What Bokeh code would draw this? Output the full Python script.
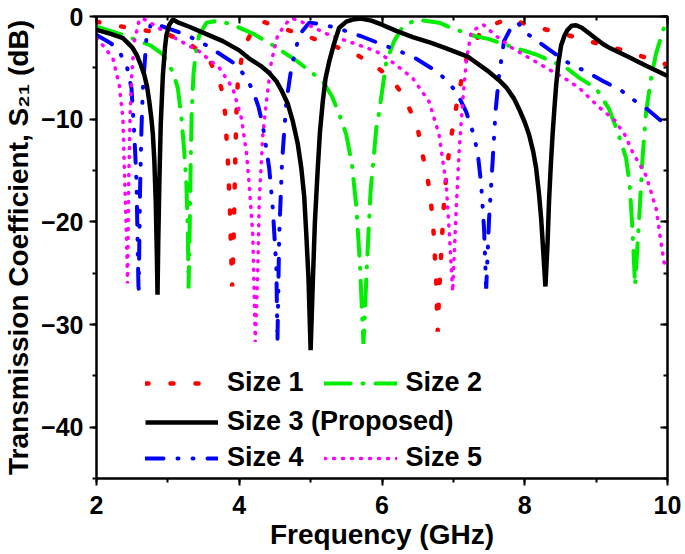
from bokeh.plotting import figure
from bokeh.models import Legend, LegendItem, LinearAxis, SingleIntervalTicker, Range1d
from bokeh.embed import file_html
from bokeh.resources import INLINE

# ---------------- data ----------------
size1_f = [2.0, 2.37, 2.72, 3.02, 3.33, 3.5, 3.6, 3.7, 3.75, 3.8, 3.84, 3.87, 3.9, 3.92, 3.94,
           3.96, 3.98, 4.03, 4.1, 4.2, 4.33, 4.5, 4.98, 5.3, 5.64, 5.92, 6.05, 6.15, 6.26, 6.36,
           6.43, 6.5, 6.57, 6.64, 6.69, 6.72, 6.76, 6.78, 6.8, 6.83, 6.86, 6.9, 6.95, 7.0, 7.05,
           7.1, 7.13, 7.2, 7.36, 7.55, 7.74, 7.8, 7.95, 8.1, 8.42, 8.76, 9.0, 9.33, 9.65, 10.0]
size1_db = [-0.5, -1.0, -1.4, -1.8, -2.8, -3.7, -4.5, -6.0, -7.0, -9.3, -14.0, -19.0, -26.3, -22.0, -15.0,
            -9.5, -6.3, -4.2, -2.5, -1.2, -0.5, -0.9, -2.0, -2.8, -3.7, -4.9, -5.6, -6.3, -7.3, -8.6,
            -9.7, -10.9, -13.5, -15.8, -18.4, -20.7, -25.9, -30.7, -27.0, -23.0, -19.0, -15.5, -12.5, -10.5, -8.4,
            -6.7, -5.4, -3.8, -1.8, -0.8, -0.3, -0.2, -0.6, -0.9, -1.5, -2.1, -2.6, -3.2, -3.9, -4.7]

size2_f = [2.0, 2.37, 2.6, 2.75, 2.93, 3.07, 3.14, 3.19, 3.23, 3.26, 3.28, 3.29, 3.305, 3.32, 3.335,
           3.36, 3.4, 3.44, 3.54, 3.7, 3.9, 4.2, 4.47, 4.8, 5.17, 5.3, 5.4, 5.5, 5.58, 5.64,
           5.69, 5.74, 5.79, 5.84, 5.92, 5.96, 6.06, 6.17, 6.29, 6.48, 6.8, 7.0, 7.3, 7.5, 7.88,
           8.16, 8.58, 8.77, 9.0, 9.18, 9.3, 9.42, 9.47, 9.5, 9.52, 9.545, 9.6, 9.65, 9.7, 9.77,
           9.84, 9.95, 10.0]
size2_db = [-1.0, -1.8, -2.4, -2.8, -3.7, -5.4, -7.0, -9.9, -13.2, -16.4, -21.3, -26.5, -21.0, -14.0, -9.0,
            -5.5, -3.1, -1.8, -0.6, -0.4, -0.8, -1.7, -2.8, -4.3, -6.3, -7.8, -9.5, -11.5, -14.5, -18.5,
            -24.0, -31.9, -24.0, -17.0, -10.9, -9.3, -4.4, -2.4, -1.0, -0.3, -0.6, -1.2, -1.9, -2.2, -3.1,
            -3.7, -5.0, -6.0, -7.0, -9.0, -11.2, -13.8, -16.4, -19.7, -22.3, -26.2, -20.0, -13.8, -9.3, -6.0,
            -3.6, -1.1, -0.9]

size3_f = [2.0, 2.2, 2.37, 2.5, 2.56, 2.62, 2.67, 2.71, 2.74, 2.77, 2.79, 2.81, 2.83, 2.845, 2.855,
           2.865, 2.88, 2.9, 2.93, 2.96, 2.98, 3.02, 3.07, 3.15, 3.3, 3.5, 3.77, 4.0, 4.14, 4.3,
           4.42, 4.52, 4.6, 4.68, 4.75, 4.82, 4.87, 4.91, 4.94, 4.97, 5.0, 5.03, 5.06, 5.1, 5.13,
           5.17, 5.21, 5.26, 5.33, 5.4, 5.5, 5.59, 5.7, 5.85, 6.0, 6.2, 6.43, 6.7, 6.9, 7.2,
           7.5, 7.64, 7.74, 7.85, 7.92, 8.0, 8.06, 8.12, 8.16, 8.2, 8.23, 8.26, 8.29, 8.32, 8.34,
           8.365, 8.39, 8.415, 8.44, 8.47, 8.51, 8.56, 8.6, 8.66, 8.72, 8.8, 8.95, 9.1, 9.2, 9.47,
           9.7, 10.0]
size3_db = [-1.3, -1.7, -2.1, -3.0, -3.7, -4.7, -5.7, -6.9, -8.3, -10.0, -11.5, -14.0, -18.0, -23.0, -27.1,
            -22.0, -16.4, -10.5, -5.7, -3.0, -1.8, -0.8, -0.3, -0.6, -1.0, -1.6, -2.4, -3.3, -4.1, -4.8,
            -5.5, -6.3, -7.3, -8.5, -10.2, -12.4, -14.8, -17.5, -21.3, -25.5, -32.5, -26.0, -20.0, -14.8, -11.3,
            -8.3, -6.0, -4.4, -2.6, -1.1, -0.5, -0.3, -0.2, -0.4, -0.8, -1.4, -2.0, -2.6, -3.1, -3.9,
            -5.4, -6.2, -6.9, -8.0, -9.0, -10.3, -11.5, -13.2, -14.8, -17.3, -19.7, -23.0, -26.3, -22.0, -18.0,
            -14.5, -11.5, -9.0, -6.7, -4.6, -2.8, -1.8, -1.3, -0.9, -0.85, -1.1, -1.9, -2.7, -3.1, -4.0,
            -4.8, -5.8]

size4_f = [2.0, 2.2, 2.32, 2.43, 2.49, 2.53, 2.56, 2.59, 2.61, 2.63, 2.65, 2.7, 2.77, 2.85, 2.98,
           3.26, 3.54, 3.96, 4.1, 4.19, 4.27, 4.33, 4.42, 4.47, 4.52, 4.535, 4.56, 4.6, 4.66, 4.73,
           4.84, 4.98, 5.1, 5.36, 5.7, 6.03, 6.43, 6.8, 7.04, 7.18, 7.27, 7.34, 7.39, 7.43, 7.46,
           7.5, 7.55, 7.59, 7.64, 7.71, 7.83, 7.9, 8.06, 8.3, 8.58, 8.84, 9.1, 9.35, 9.54, 9.73,
           9.9, 10.0]
size4_db = [-1.8, -2.6, -3.4, -5.0, -7.0, -11.5, -16.0, -27.1, -17.0, -10.9, -7.0, -2.1, -0.6, -0.8, -1.1,
            -1.8, -2.8, -4.7, -6.0, -7.2, -8.8, -10.6, -14.8, -18.7, -24.5, -31.7, -21.3, -14.1, -8.3, -5.0,
            -1.8, -0.6, -0.7, -1.1, -1.9, -2.8, -3.9, -5.5, -7.3, -9.3, -11.2, -13.2, -16.4, -20.7, -26.5,
            -19.7, -14.1, -9.3, -5.7, -2.4, -0.8, -0.6, -1.8, -3.0, -4.4, -5.3, -6.3, -7.2, -8.2, -9.1,
            -10.1, -10.5]

size5_f = [2.0, 2.1, 2.23, 2.32, 2.37, 2.39, 2.42, 2.435, 2.45, 2.47, 2.49, 2.53, 2.6, 2.65, 2.8,
           3.02, 3.44, 3.72, 3.91, 4.03, 4.1, 4.14, 4.19, 4.225, 4.26, 4.28, 4.33, 4.38, 4.45, 4.54,
           4.7, 4.75, 4.9, 5.26, 5.6, 5.92, 6.1, 6.43, 6.66, 6.8, 6.9, 6.94, 6.99, 7.04, 7.08,
           7.13, 7.18, 7.25, 7.36, 7.42, 7.6, 7.83, 8.3, 8.6, 8.77, 8.93, 9.07, 9.26, 9.4, 9.51,
           9.7, 9.84, 9.95, 10.0]
size5_db = [-2.1, -2.9, -4.1, -6.7, -9.9, -14.8, -21.3, -26.0, -16.4, -9.9, -6.0, -2.4, -0.3, -0.2, -0.8,
            -1.8, -3.4, -5.0, -7.0, -9.9, -13.2, -16.4, -21.3, -31.7, -24.5, -18.0, -11.5, -8.3, -4.4, -1.8,
            -0.3, -0.2, -0.6, -1.8, -2.6, -3.4, -4.2, -6.0, -8.3, -11.5, -16.4, -20.7, -26.8, -18.7, -13.2,
            -8.3, -4.4, -1.5, -1.0, -0.8, -1.9, -3.1, -5.0, -6.2, -7.0, -8.1, -9.0, -10.1, -11.5, -13.2,
            -15.5, -18.7, -23.9, -24.6]

x_ticks_major = [2, 4, 6, 8, 10]
y_ticks_major = [0, -10, -20, -30, -40]

FONT = "Liberation Sans"

# ---------------- figure ----------------
p = figure(width=685, height=554, output_backend="svg", toolbar_location=None,
           x_range=Range1d(2, 10), y_range=Range1d(-45, 0),
           min_border_left=96, min_border_right=18, min_border_top=16, min_border_bottom=76,
           background_fill_color="white", border_fill_color="white")
p.xgrid.visible = False
p.ygrid.visible = False
p.outline_line_color = "black"
p.outline_line_width = 2

xa = p.xaxis[0]
xa.ticker = SingleIntervalTicker(interval=2, num_minor_ticks=2)
xa.axis_label = "Frequency (GHz)"
ya = p.yaxis[0]
ya.ticker = SingleIntervalTicker(interval=10, num_minor_ticks=2)
ya.axis_label = "Transmission Coefficient, S\u2082\u2081 (dB)"

for ax in (xa, ya):
    ax.axis_line_width = 2
    ax.axis_line_color = "black"
    ax.major_tick_line_width = 2
    ax.minor_tick_line_width = 2
    ax.major_tick_in = 0
    ax.major_tick_out = 7
    ax.minor_tick_in = 0
    ax.minor_tick_out = 4
    ax.major_label_text_font = FONT
    ax.major_label_text_font_style = "bold"
    ax.major_label_text_font_size = "25px"
    ax.major_label_text_color = "black"
    ax.axis_label_text_font = FONT
    ax.axis_label_text_font_style = "bold"
    ax.axis_label_text_color = "black"

xa.axis_label_text_font_size = "28px"
xa.major_label_standoff = 10
xa.axis_label_standoff = 2
ya.axis_label_text_font_size = "28px"
ya.major_label_standoff = 6
ya.axis_label_standoff = 4

# mirrored axes on top and right: inward ticks, labels not painted
top = LinearAxis(ticker=SingleIntervalTicker(interval=2, num_minor_ticks=2))
right = LinearAxis(ticker=SingleIntervalTicker(interval=10, num_minor_ticks=2))
for ax in (top, right):
    ax.axis_line_width = 2
    ax.major_tick_line_width = 2
    ax.minor_tick_line_width = 2
    ax.major_tick_in = 7
    ax.major_tick_out = 0
    ax.minor_tick_in = 4
    ax.minor_tick_out = 0
    ax.major_label_text_font_size = "1px"
    ax.major_label_text_color = None
    ax.major_label_standoff = 0
p.add_layout(top, "above")
p.add_layout(right, "right")

# ---------------- curves ----------------
r1 = p.line(size1_f, size1_db, line_color="#ff0000", line_width=4.5, line_dash="3 22", line_cap="round")
r2 = p.line(size2_f, size2_db, line_color="#00ee00", line_width=4, line_dash="26 12 1 12", line_cap="round")
r4 = p.line(size4_f, size4_db, line_color="#0000ff", line_width=4, line_dash="18 14 1 14 1 14", line_cap="round")
r5 = p.line(size5_f, size5_db, line_color="#ff00ff", line_width=3.5, line_dash="1 8", line_cap="round")
r3 = p.line(size3_f, size3_db, line_color="black", line_width=4.5)

def make_legend(items, loc):
    lg = Legend(items=items, location=loc, orientation="horizontal",
                glyph_width=73, glyph_height=26, label_standoff=9, spacing=20,
                padding=0, margin=0, border_line_color=None, background_fill_alpha=0,
                label_text_font=FONT, label_text_font_style="bold",
                label_text_font_size="27px", label_text_color="black",
                label_height=26)
    p.add_layout(lg, "center")

make_legend([LegendItem(label="Size 1", renderers=[r1]),
             LegendItem(label="Size 2", renderers=[r2])], (49, 80))
make_legend([LegendItem(label="Size 3 (Proposed)", renderers=[r3])], (49, 41))
make_legend([LegendItem(label="Size 4", renderers=[r4]),
             LegendItem(label="Size 5", renderers=[r5])], (49, 5))

open("out.html", "w").write(file_html(p, INLINE))
